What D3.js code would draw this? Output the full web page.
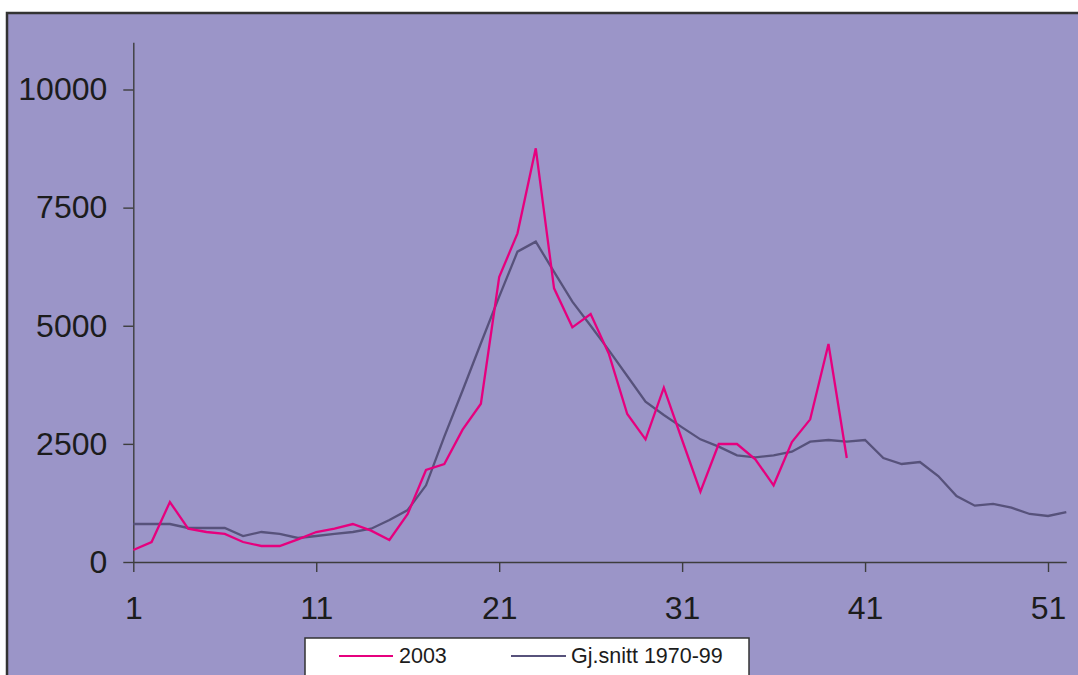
<!DOCTYPE html>
<html>
<head>
<meta charset="utf-8">
<script src="https://cdn.jsdelivr.net/npm/d3@7"></script>
<style>
  html, body { margin: 0; padding: 0; background: #ffffff; }
  svg { display: block; }
  text { font-family: "Liberation Sans", Arial, sans-serif; }
</style>
</head>
<body>
<svg id="chart" width="1078" height="675"></svg>
<script>
// Week numbers on the category axis
const weeks = d3.range(1, 53);

// Weekly counts, 2003 (data available through week 40)
const series2003 = [
  254, 423, 1270, 705, 635, 593, 423, 339, 339, 480,
  635, 705, 804, 663, 466, 1016, 1947, 2074, 2800, 3350,
  6030, 6956, 8755, 5792, 4966, 5249, 4400, 3132, 2596, 3690,
  2582, 1488, 2497, 2497, 2173, 1623, 2540, 3019, 4614, 2201
];

// Weekly average 1970-99
const seriesAvg = [
  804, 804, 804, 720, 720, 720, 550, 635, 593, 508,
  550, 593, 635, 705, 889, 1100, 1623, 2653, 3630, 4630,
  5615, 6568, 6780, 6140, 5510, 5000, 4480, 3937, 3393, 3111,
  2850, 2596, 2441, 2258, 2215, 2258, 2335, 2547, 2582, 2547,
  2582, 2201, 2074, 2116, 1820, 1397, 1192, 1228, 1150, 1016,
  974, 1058
];

const yTicks = [0, 2500, 5000, 7500, 10000];
const xTicks = [1, 11, 21, 31, 41, 51];

const seriesNames = ["2003", "Gj.snitt 1970-99"];
const seriesColors = ["#e6007e", "#57527b"];

const svg = d3.select("#chart");

// Chart area with its frame
svg.append("rect")
  .attr("x", 7).attr("y", 13)
  .attr("width", 1100).attr("height", 700)
  .attr("fill", "#9b95c8")
  .attr("stroke", "#333333")
  .attr("stroke-width", 2.5);

const x = d3.scaleLinear().domain([1, 52]).range([133.3, 1066.3]);
const y = d3.scaleLinear().domain([0, 11000]).range([562, 42.25]);

const axisColor = "#3d3d3d";

const yAxis = svg.append("g")
  .attr("transform", `translate(${x(1)},0)`)
  .call(d3.axisLeft(y).tickValues(yTicks).tickSize(10).tickSizeOuter(0).tickPadding(16).tickFormat(d3.format("d")));

const xAxis = svg.append("g")
  .attr("transform", `translate(0,${y(0)})`)
  .call(d3.axisBottom(x).tickValues(xTicks).tickSize(10).tickSizeOuter(0).tickPadding(24.3).tickFormat(d3.format("d")));

[yAxis, xAxis].forEach(g => {
  g.select(".domain").attr("stroke", axisColor).attr("stroke-width", 1.4);
  g.selectAll(".tick line").attr("stroke", axisColor).attr("stroke-width", 1.4);
  g.selectAll(".tick text")
    .attr("fill", "#1c1c1c")
    .style("font-size", "32px")
    .style("font-family", "'Liberation Sans', Arial, sans-serif");
});

const line = d3.line()
  .x((d, i) => x(weeks[i]))
  .y(d => y(d));

// Average first, 2003 on top
svg.append("path")
  .datum(seriesAvg)
  .attr("d", line)
  .attr("fill", "none")
  .attr("stroke", seriesColors[1])
  .attr("stroke-width", 2.3)
  .attr("stroke-linejoin", "miter");

svg.append("path")
  .datum(series2003)
  .attr("d", line)
  .attr("fill", "none")
  .attr("stroke", seriesColors[0])
  .attr("stroke-width", 2.3)
  .attr("stroke-linejoin", "miter");

// Legend
const legend = svg.append("g");
legend.append("rect")
  .attr("x", 305).attr("y", 638)
  .attr("width", 444).attr("height", 60)
  .attr("fill", "#ffffff")
  .attr("stroke", "#333333")
  .attr("stroke-width", 1.5);

const legendItems = [
  { x1: 339, x2: 393, tx: 399 },
  { x1: 511, x2: 566, tx: 571 }
];
legendItems.forEach((it, i) => {
  legend.append("line")
    .attr("x1", it.x1).attr("x2", it.x2)
    .attr("y1", 656).attr("y2", 656)
    .attr("stroke", seriesColors[i])
    .attr("stroke-width", 2);
  legend.append("text")
    .attr("x", it.tx).attr("y", 662.5)
    .attr("fill", "#1c1c1c")
    .style("font-size", "21.5px")
    .text(seriesNames[i]);
});
</script>
</body>
</html>
